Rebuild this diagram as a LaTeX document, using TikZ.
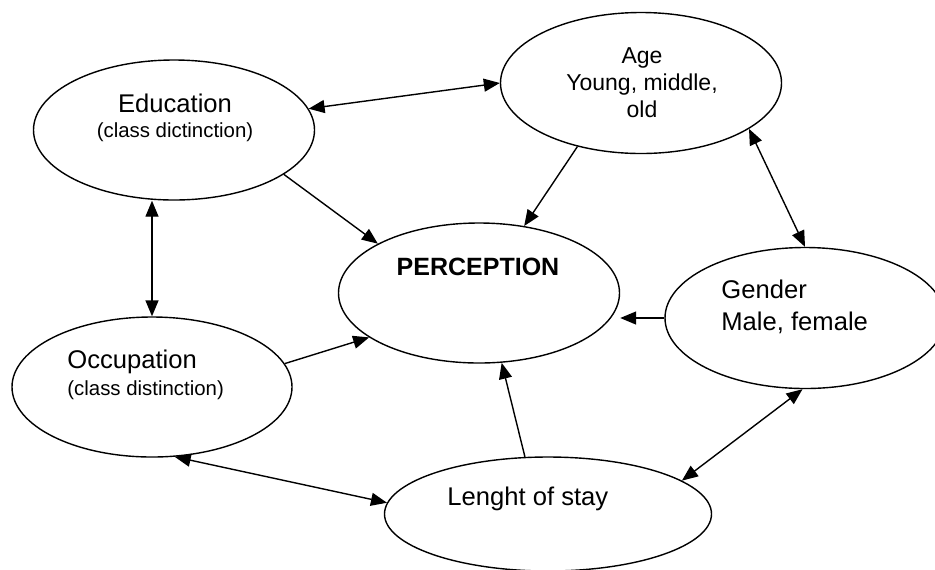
\documentclass[tikz,border=0pt]{standalone}
\usepackage{fontspec}
\setmainfont{Liberation Sans}
\usetikzlibrary{shapes.geometric}
\usetikzlibrary{arrows.meta}

\begin{document}
\begin{tikzpicture}[x=0.5pt,y=-0.5pt,
    blob/.style={ellipse, draw, line width=0.7pt, inner sep=0pt},
    link/.style={-{Triangle[length=8pt,width=6.5pt]}, line width=0.7pt},
    twoway/.style={{Triangle[length=8pt,width=6.5pt]}-{Triangle[length=8pt,width=6.5pt]}, line width=0.7pt},
    big/.style={font=\fontsize{12.8}{15}\selectfont, inner sep=0pt, anchor=base},
    small/.style={font=\fontsize{10.2}{12}\selectfont, inner sep=0pt, anchor=base},
    mid/.style={font=\fontsize{11.5}{13}\selectfont, inner sep=0pt, anchor=base}]
    \clip (0,0) rectangle (935,569);
    % the six ellipses
    \node[blob, minimum width=140.5pt, minimum height=70pt] (edu) at (174,130) {};
    \node[blob, minimum width=140.5pt, minimum height=70.5pt] (age) at (641,83) {};
    \node[blob, minimum width=140.5pt, minimum height=70pt] (perc) at (479,293) {};
    \node[blob, minimum width=140pt, minimum height=70.5pt] (gender) at (805,318) {};
    \node[blob, minimum width=140pt, minimum height=70pt] (occ) at (152,387) {};
    \node[blob, minimum width=163.5pt, minimum height=57pt] (stay) at (548,514) {};
    % texts
    \node[big] (eduA) at (175,112) {Education};
    \node[small] (eduB) at (175,137) {(class dictinction)};
    \node[mid] (ageA) at (642,63) {Age};
    \node[mid] (ageB) at (642,90) {Young, middle,};
    \node[mid] (ageC) at (642,117) {old};
    \node[big, font=\fontsize{12.5}{15}\selectfont\bfseries] (percA) at (478,275) {PERCEPTION};
    \node[big, anchor=base west] (genderA) at (721,298) {Gender};
    \node[big, anchor=base west] (genderB) at (721,330) {Male, female};
    \node[big, anchor=base west] (occA) at (67,368) {Occupation};
    \node[small, anchor=base west] (occB) at (67,395) {(class distinction)};
    \node[big, anchor=base west] (stayA) at (447,505) {Lenght of stay};
    % arrows
    \draw[twoway] (edu.9) -- (age.180);
    \draw[link] (edu.-22) -- (perc.154);
    \draw[twoway] (edu.south -| occ.north) -- (occ.north);
    \draw[link] (age.-135) -- (perc.56);
    \draw[twoway] (age.-23) -- (gender.90);
    \draw[link] (gender.west) -- (gender.west -| perc.east);
    \draw[link] (occ.10) -- (perc.-158);
    \draw[twoway] (occ.-72) -- (stay.176);
    \draw[link] (stay.112) -- (perc.-72);
    \draw[twoway] (stay.14) -- (gender.-92);
\end{tikzpicture}
\end{document}
